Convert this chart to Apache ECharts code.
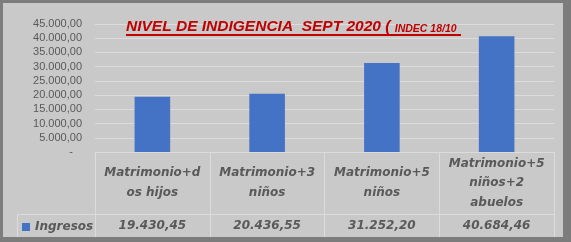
<!DOCTYPE html>
<html>
<head>
<meta charset="utf-8">
<script src="https://cdn.jsdelivr.net/npm/echarts@6/dist/echarts.min.js"></script>
<style>
  html, body { margin: 0; padding: 0; }
  #wrap { width: 560px; height: 234px; background: #7c7c7c; border-style: solid; border-color: #7c7c7c; border-width: 3px 8px 5px 3px; }
  #chart { width: 560px; height: 234px; background: #c9c9c9; }
</style>
</head>
<body>
<div id="wrap"><div id="chart"></div></div>
<script>
const categories = ['Matrimonio+d\nos hijos', 'Matrimonio+3\nniños', 'Matrimonio+5\nniños', 'Matrimonio+5\nniños+2\nabuelos'];
const ingresos = [19430.45, 20436.55, 31252.20, 40684.46];
const seriesName = 'Ingresos';
const yTicks = { min: 0, max: 45000, interval: 5000 };
const titleMain = 'NIVEL DE INDIGENCIA  SEPT 2020 ( ';
const titleSub = 'INDEC 18/10';

function fmtNum(v, dec) {
  const parts = v.toFixed(dec).split('.');
  const intPart = parts[0].replace(/\B(?=(\d{3})+(?!\d))/g, '.');
  return dec > 0 ? intPart + ',' + parts[1] : intPart;
}

const txt = '#595959';
const lineCol = '#dcdcdc';
const tableFont = { fontFamily: 'DejaVu Sans', fontWeight: 'bold', fontStyle: 'italic', fontSize: 12, color: txt };

const chart = echarts.init(document.getElementById('chart'));
chart.setOption({
  animation: false,
  title: {
    left: 123, top: 15.5, padding: 0,
    text: '{a|' + titleMain + '}{b|' + titleSub + '}',
    textStyle: {
      rich: {
        a: { fontFamily: 'Liberation Sans', fontWeight: 'bold', fontStyle: 'italic', fontSize: 15.5, color: '#c00000' },
        b: { fontFamily: 'Liberation Sans', fontWeight: 'bold', fontStyle: 'italic', fontSize: 10.5, color: '#c00000', verticalAlign: 'bottom' }
      }
    }
  },
  legend: {
    left: 19, top: 218, padding: 0,
    icon: 'rect', itemWidth: 8, itemHeight: 8, itemGap: 5,
    data: [seriesName],
    textStyle: { fontFamily: 'DejaVu Sans', fontWeight: 'bold', fontStyle: 'italic', fontSize: 12, color: txt }
  },
  grid: { left: 92, right: 9, top: 21, bottom: 85, outerBoundsMode: 'none', containLabel: false },
  xAxis: [
    {
      type: 'category', data: categories, position: 'bottom',
      axisLine: { show: true, lineStyle: { color: lineCol, width: 1 } },
      axisTick: { show: true, length: 85, interval: 0, lineStyle: { color: lineCol } },
      axisLabel: Object.assign({ interval: 0, margin: 31, verticalAlign: 'middle', lineHeight: 19.5, align: 'center' }, tableFont)
    },
    {
      type: 'category', data: ingresos.map(v => fmtNum(v, 2)), position: 'bottom',
      axisLine: { show: false }, axisTick: { show: false },
      axisLabel: Object.assign({ interval: 0, margin: 74, verticalAlign: 'middle' }, tableFont)
    }
  ],
  yAxis: {
    type: 'value', min: yTicks.min, max: yTicks.max, interval: yTicks.interval,
    axisLine: { show: false }, axisTick: { show: false },
    splitLine: { lineStyle: { color: lineCol } },
    axisLabel: {
      margin: 13, fontFamily: 'Liberation Sans', fontSize: 11, color: txt,
      formatter: v => v === 0 ? '-   ' : fmtNum(v, 2)
    }
  },
  series: [{
    name: seriesName, type: 'bar', data: ingresos, xAxisIndex: 0,
    barWidth: '31%', itemStyle: { color: '#4472c4' }
  }],
  graphic: [
    { type: 'line', shape: { x1: 123, y1: 32, x2: 458, y2: 32 }, style: { stroke: '#c00000', lineWidth: 2 } },
    { type: 'line', shape: { x1: 14, y1: 211.5, x2: 551, y2: 211.5 }, style: { stroke: lineCol, lineWidth: 1 } },
    { type: 'line', shape: { x1: 14.5, y1: 211, x2: 14.5, y2: 234 }, style: { stroke: lineCol, lineWidth: 1 } }
  ]
});
</script>
</body>
</html>
